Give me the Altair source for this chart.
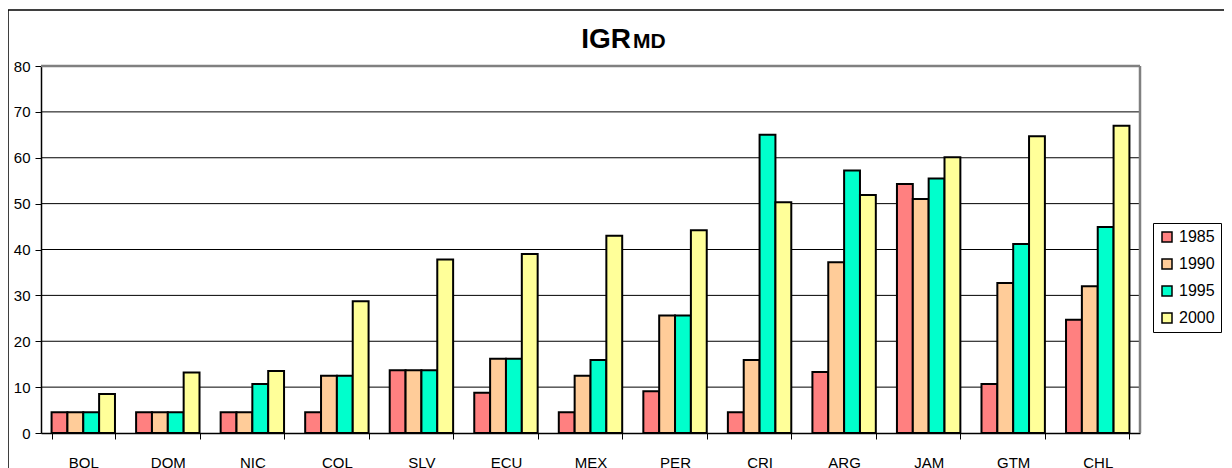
import altair as alt
import pandas as pd

countries = ["BOL", "DOM", "NIC", "COL", "SLV", "ECU", "MEX", "PER", "CRI", "ARG", "JAM", "GTM", "CHL"]
years = ["1985", "1990", "1995", "2000"]
v1985 = [4.5, 4.5, 4.5, 4.5, 13.7, 8.8, 4.5, 9.1, 4.5, 13.3, 54.3, 10.7, 24.7]
v1990 = [4.5, 4.5, 4.5, 12.5, 13.7, 16.2, 12.5, 25.6, 15.9, 37.2, 51.0, 32.7, 32.0]
v1995 = [4.5, 4.5, 10.7, 12.5, 13.7, 16.2, 15.9, 25.6, 65.0, 57.2, 55.5, 41.2, 44.9]
v2000 = [8.5, 13.2, 13.5, 28.7, 37.8, 39.0, 43.0, 44.2, 50.3, 51.9, 60.1, 64.7, 67.0]
colors = ["#FF8080", "#FFCC99", "#00FFCC", "#FFFF99"]
y_ticks = [0, 10, 20, 30, 40, 50, 60, 70, 80]
grid_vals = [10, 20, 30, 40, 50, 60, 70]

rows = []
for yr, vals in zip(years, [v1985, v1990, v1995, v2000]):
    for c, v in zip(countries, vals):
        rows.append({"country": c, "year": yr, "value": v})
df = pd.DataFrame(rows)

FONT = "Liberation Sans"
yscale = alt.Scale(domain=[0, 80], nice=False)
yaxis = alt.Axis(values=y_ticks, tickSize=6, labelPadding=5,
                 labelFontSize=15, labelFont=FONT, labelColor="black",
                 domainColor="black", tickColor="black", domainWidth=1.5,
                 grid=False)

grid = alt.Chart(pd.DataFrame({"g": grid_vals})).mark_rule(color="black", strokeWidth=1).encode(
    y=alt.Y("g:Q", scale=yscale, axis=yaxis, title=None))

top_border = alt.Chart(pd.DataFrame({"a": [0]})).mark_rule(color="#808080", strokeWidth=2.5).encode(
    x=alt.value(0), x2=alt.value(1099), y=alt.value(0))
right_border = alt.Chart(pd.DataFrame({"a": [0]})).mark_rule(color="#808080", strokeWidth=2.5).encode(
    x=alt.value(1099), y=alt.value(0), y2=alt.value(367))

bars = alt.Chart(df).mark_bar(stroke="black", strokeWidth=2).encode(
    x=alt.X("country:N", sort=countries, title=None,
            scale=alt.Scale(paddingInner=0.25, paddingOuter=0.125),
            axis=alt.Axis(labelAngle=0, tickBand="extent", tickSize=6, labelPadding=16,
                          labelFontSize=15, labelFont=FONT, labelColor="black",
                          domainColor="black", tickColor="black", domainWidth=1.5, grid=False)),
    xOffset=alt.XOffset("year:N", sort=years, scale=alt.Scale(paddingInner=0, paddingOuter=0)),
    y=alt.Y("value:Q", title=None, scale=yscale, axis=yaxis),
    color=alt.Color("year:N", sort=years,
                    scale=alt.Scale(domain=years, range=colors),
                    legend=alt.Legend(title=None, orient="none", legendX=1112, legendY=157,
                                      symbolType="square", symbolSize=100, symbolStrokeColor="black",
                                      symbolStrokeWidth=1.5, symbolOpacity=1,
                                      labelFontSize=16, labelFont=FONT, labelColor="black",
                                      rowPadding=11, padding=6, strokeColor="black",
                                      fillColor="white", labelOffset=4)),
)

frame = alt.Chart(pd.DataFrame({"a": [0]})).mark_rect(fill=None, stroke="black", strokeWidth=1.5).encode(
    x=alt.value(-33), x2=alt.value(1250), y=alt.value(-56), y2=alt.value(500))

title1 = alt.Chart(pd.DataFrame({"t": ["IGR"]})).mark_text(
    font=FONT, fontSize=28, fontWeight="bold", align="right", baseline="alphabetic", color="black"
).encode(text="t:N", x=alt.value(590), y=alt.value(-18))
title2 = alt.Chart(pd.DataFrame({"t": ["MD"]})).mark_text(
    font=FONT, fontSize=21, fontWeight="bold", align="left", baseline="alphabetic", color="black"
).encode(text="t:N", x=alt.value(592), y=alt.value(-18))

chart = alt.layer(frame, grid, top_border, right_border, bars, title1, title2).properties(
    width=1099, height=367,
    padding={"left": 33, "top": 58, "right": 84, "bottom": 35},
    autosize=alt.AutoSizeParams(type="none"),
).configure_view(stroke=None).configure(background="white")

chart.save("out.html", embed_options={"renderer": "svg", "actions": False})
